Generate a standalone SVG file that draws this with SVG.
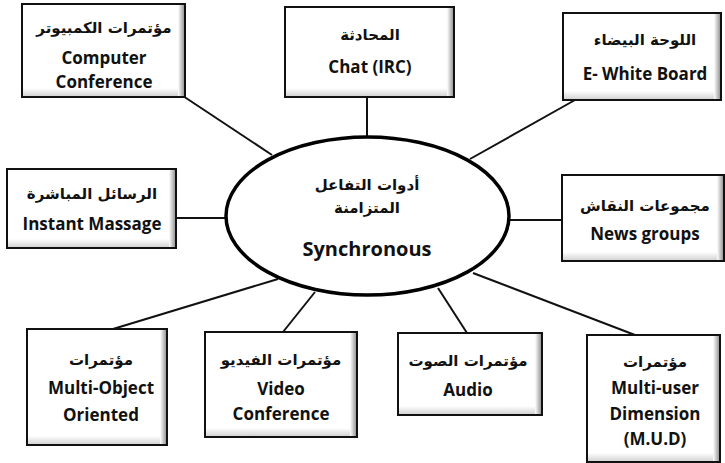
<svg xmlns="http://www.w3.org/2000/svg" width="725" height="463" viewBox="0 0 725 463">
  <defs>
    <linearGradient id="edgeR" x1="0" y1="0" x2="1" y2="0">
      <stop offset="0" stop-color="#ffffff"/>
      <stop offset="1" stop-color="#9a9a9a"/>
    </linearGradient>
    <linearGradient id="edgeB" x1="0" y1="0" x2="0" y2="1">
      <stop offset="0" stop-color="#ffffff"/>
      <stop offset="1" stop-color="#d4d4d4"/>
    </linearGradient>
  </defs>
  <style>
    .box { fill: #ffffff; stroke: #111111; stroke-width: 2; }
    .shadeR { fill: url(#edgeR); }
    .shadeB { fill: url(#edgeB); }
    .link { stroke: #111111; stroke-width: 2; fill: none; }
    .hub { fill: #ffffff; stroke: #000000; stroke-width: 3.5; }
    .ar { font-family: "DejaVu Sans", "Noto Sans", sans-serif; font-weight: bold; font-size: 15px; fill: #111111; text-anchor: middle; }
    .en { font-family: "Open Sans", "Liberation Sans", sans-serif; font-weight: bold; font-size: 17px; fill: #111111; text-anchor: middle; }
    .big { font-size: 20px; }
  </style>

  <!-- connectors from the central ellipse to each tool -->
  <g id="connectors">
    <line class="link" x1="183" y1="96" x2="272" y2="155"/>
    <line class="link" x1="367" y1="97" x2="367" y2="137"/>
    <line class="link" x1="575" y1="100" x2="470" y2="159"/>
    <line class="link" x1="176" y1="218" x2="226" y2="218"/>
    <line class="link" x1="509" y1="220" x2="562" y2="220"/>
    <line class="link" x1="113" y1="329" x2="278" y2="279"/>
    <line class="link" x1="283" y1="332" x2="315" y2="292"/>
    <line class="link" x1="467" y1="333" x2="438" y2="288"/>
    <line class="link" x1="635" y1="335" x2="473" y2="273"/>
  </g>

  <!-- central node -->
  <g id="hub">
    <ellipse class="hub" cx="367.5" cy="216" rx="141.5" ry="79"/>
    <text class="ar" x="367" y="190">أدوات التفاعل</text>
    <text class="ar" x="367" y="213">المتزامنة</text>
    <text class="en big" x="367" y="256">Synchronous</text>
  </g>

  <g id="computer-conference">
    <rect class="box" x="22" y="4" width="163" height="93"/>
    <rect class="shadeB" x="23" y="88" width="161" height="8"/>
    <rect class="shadeR" x="178" y="5" width="6" height="91"/>
    <text class="ar" x="104" y="33">مؤتمرات الكمبيوتر</text>
    <text class="en" x="104" y="64">Computer</text>
    <text class="en" x="104" y="88">Conference</text>
  </g>

  <g id="chat">
    <rect class="box" x="285" y="7" width="169" height="90"/>
    <rect class="shadeB" x="286" y="88" width="167" height="8"/>
    <rect class="shadeR" x="447" y="8" width="6" height="88"/>
    <text class="ar" x="370" y="40">المحادثة</text>
    <text class="en" x="370" y="73">Chat (IRC)</text>
  </g>

  <g id="white-board">
    <rect class="box" x="563" y="13" width="158" height="87"/>
    <rect class="shadeB" x="564" y="91" width="156" height="8"/>
    <rect class="shadeR" x="714" y="14" width="6" height="85"/>
    <text class="ar" x="645" y="45">اللوحة البيضاء</text>
    <text class="en" x="645" y="80">E- White Board</text>
  </g>

  <g id="instant-message">
    <rect class="box" x="7" y="169" width="169" height="79"/>
    <rect class="shadeB" x="8" y="239" width="167" height="8"/>
    <rect class="shadeR" x="169" y="170" width="6" height="77"/>
    <text class="ar" x="92" y="199">الرسائل المباشرة</text>
    <text class="en" x="92" y="230">Instant Massage</text>
  </g>

  <g id="news-groups">
    <rect class="box" x="562" y="175" width="162" height="86"/>
    <rect class="shadeB" x="563" y="252" width="160" height="8"/>
    <rect class="shadeR" x="717" y="176" width="6" height="84"/>
    <text class="ar" x="645" y="211">مجموعات النقاش</text>
    <text class="en" x="645" y="240">News groups</text>
  </g>

  <g id="multi-object">
    <rect class="box" x="27" y="329" width="140" height="116"/>
    <rect class="shadeB" x="28" y="436" width="138" height="8"/>
    <rect class="shadeR" x="160" y="330" width="6" height="114"/>
    <text class="ar" x="101" y="365">مؤتمرات</text>
    <text class="en" x="101" y="394">Multi-Object</text>
    <text class="en" x="101" y="421">Oriented</text>
  </g>

  <g id="video-conference">
    <rect class="box" x="205" y="332" width="152" height="105"/>
    <rect class="shadeB" x="206" y="428" width="150" height="8"/>
    <rect class="shadeR" x="350" y="333" width="6" height="103"/>
    <text class="ar" x="281" y="365">مؤتمرات الفيديو</text>
    <text class="en" x="281" y="395">Video</text>
    <text class="en" x="281" y="420">Conference</text>
  </g>

  <g id="audio">
    <rect class="box" x="398" y="333" width="144" height="82"/>
    <rect class="shadeB" x="399" y="406" width="142" height="8"/>
    <rect class="shadeR" x="535" y="334" width="6" height="80"/>
    <text class="ar" x="468" y="366">مؤتمرات الصوت</text>
    <text class="en" x="468" y="396">Audio</text>
  </g>

  <g id="multi-user-dimension">
    <rect class="box" x="587" y="335" width="133" height="127"/>
    <rect class="shadeB" x="588" y="453" width="131" height="8"/>
    <rect class="shadeR" x="713" y="336" width="6" height="125"/>
    <text class="ar" x="655" y="367">مؤتمرات</text>
    <text class="en" x="655" y="394">Multi-user</text>
    <text class="en" x="655" y="420">Dimension</text>
    <text class="en" x="655" y="445">(M.U.D)</text>
  </g>
</svg>
